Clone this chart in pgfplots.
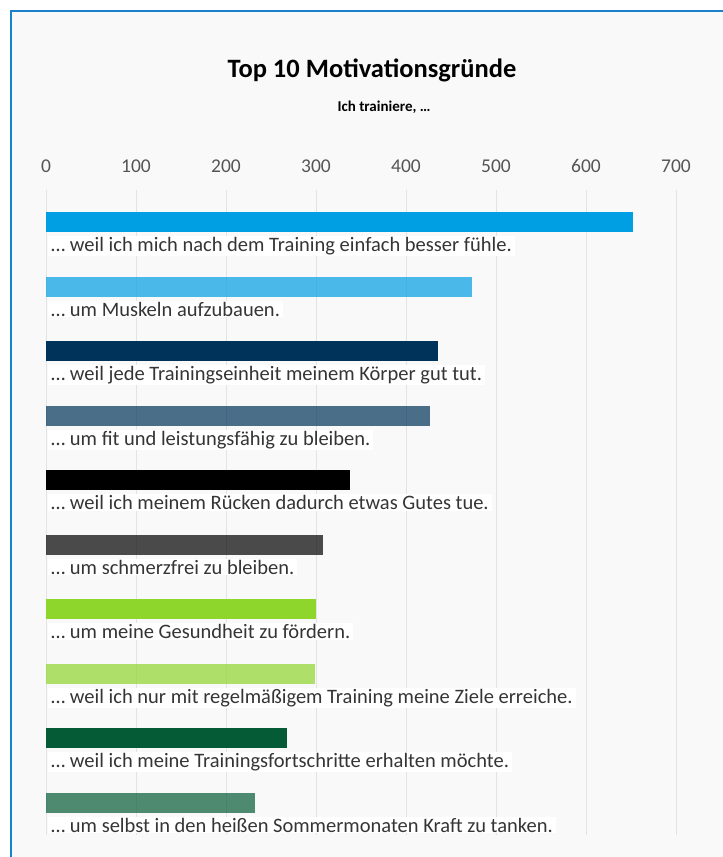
\documentclass[border=0pt]{standalone}
\usepackage{pgfplots}
\pgfplotsset{compat=1.18}
\usepackage{fontspec}
\setmainfont{Carlito}
\definecolor{bgc}{HTML}{F9F9F9}
\definecolor{framec}{HTML}{1A82CC}
\definecolor{gridc}{HTML}{E3E3E3}
\definecolor{tickc}{HTML}{555555}
\definecolor{labc}{HTML}{353535}
\definecolor{cA}{HTML}{009FE3}
\definecolor{cB}{HTML}{003359}
\definecolor{cC}{HTML}{000000}
\definecolor{cD}{HTML}{8FD62C}
\definecolor{cE}{HTML}{065B37}
\tikzset{lab/.style={anchor=north west, fill=white, inner xsep=3pt, inner ysep=1pt, text=labc, font=\fontsize{20.5}{22}\selectfont, xshift=2pt, yshift=-14pt}}
\begin{document}
\begin{tikzpicture}
\useasboundingbox (0,0) rectangle (723pt,-857pt);
\fill[bgc] (11pt,-11pt) rectangle (723pt,-857pt);
\draw[framec, line width=2pt] (11pt,-857pt) -- (11pt,-11pt) -- (723pt,-11pt);
\node[anchor=base, font=\fontsize{26.5}{30}\selectfont\bfseries] at (372pt,-77pt) {Top 10 Motivationsgründe};
\node[anchor=base, font=\fontsize{15}{17}\selectfont\bfseries] at (384pt,-111pt) {Ich trainiere, …};
\begin{axis}[
  at={(46pt,-835pt)}, anchor=south west,
  scale only axis, width=675pt, height=645pt,
  xmin=0, xmax=750, ymin=0.5, ymax=10.5, y dir=reverse,
  clip=false,
  xbar, bar width=20pt, bar shift=0pt,
  axis line style={draw=none},
  major tick length=0pt,
  xtick={0,100,...,700}, ytick=\empty,
  xticklabel pos=upper,
  xmajorgrids, grid style={gridc, line width=1pt},
  /pgf/number format/assume math mode=true,
  xticklabel style={font=\fontsize{19.5}{21}\selectfont, text=tickc, yshift=14pt},
]
\addplot[fill=cA, draw=none] coordinates {(652,1)};
\addplot[fill=cA, fill opacity=0.7, draw=none] coordinates {(473,2)};
\addplot[fill=cB, draw=none] coordinates {(436,3)};
\addplot[fill=cB, fill opacity=0.7, draw=none] coordinates {(427,4)};
\addplot[fill=cC, draw=none] coordinates {(338,5)};
\addplot[fill=cC, fill opacity=0.7, draw=none] coordinates {(308,6)};
\addplot[fill=cD, draw=none] coordinates {(300,7)};
\addplot[fill=cD, fill opacity=0.7, draw=none] coordinates {(299,8)};
\addplot[fill=cE, draw=none] coordinates {(268,9)};
\addplot[fill=cE, fill opacity=0.7, draw=none] coordinates {(232,10)};
\node[lab] at (axis cs:0,1) {… weil ich mich nach dem Training einfach besser fühle.};
\node[lab] at (axis cs:0,2) {… um Muskeln aufzubauen.};
\node[lab] at (axis cs:0,3) {… weil jede Trainingseinheit meinem Körper gut tut.};
\node[lab] at (axis cs:0,4) {… um fit und leistungsfähig zu bleiben.};
\node[lab] at (axis cs:0,5) {… weil ich meinem Rücken dadurch etwas Gutes tue.};
\node[lab] at (axis cs:0,6) {… um schmerzfrei zu bleiben.};
\node[lab] at (axis cs:0,7) {… um meine Gesundheit zu fördern.};
\node[lab] at (axis cs:0,8) {… weil ich nur mit regelmäßigem Training meine Ziele erreiche.};
\node[lab] at (axis cs:0,9) {… weil ich meine Trainingsfortschritte erhalten möchte.};
\node[lab] at (axis cs:0,10) {… um selbst in den heißen Sommermonaten Kraft zu tanken.};
\end{axis}
\end{tikzpicture}
\end{document}
